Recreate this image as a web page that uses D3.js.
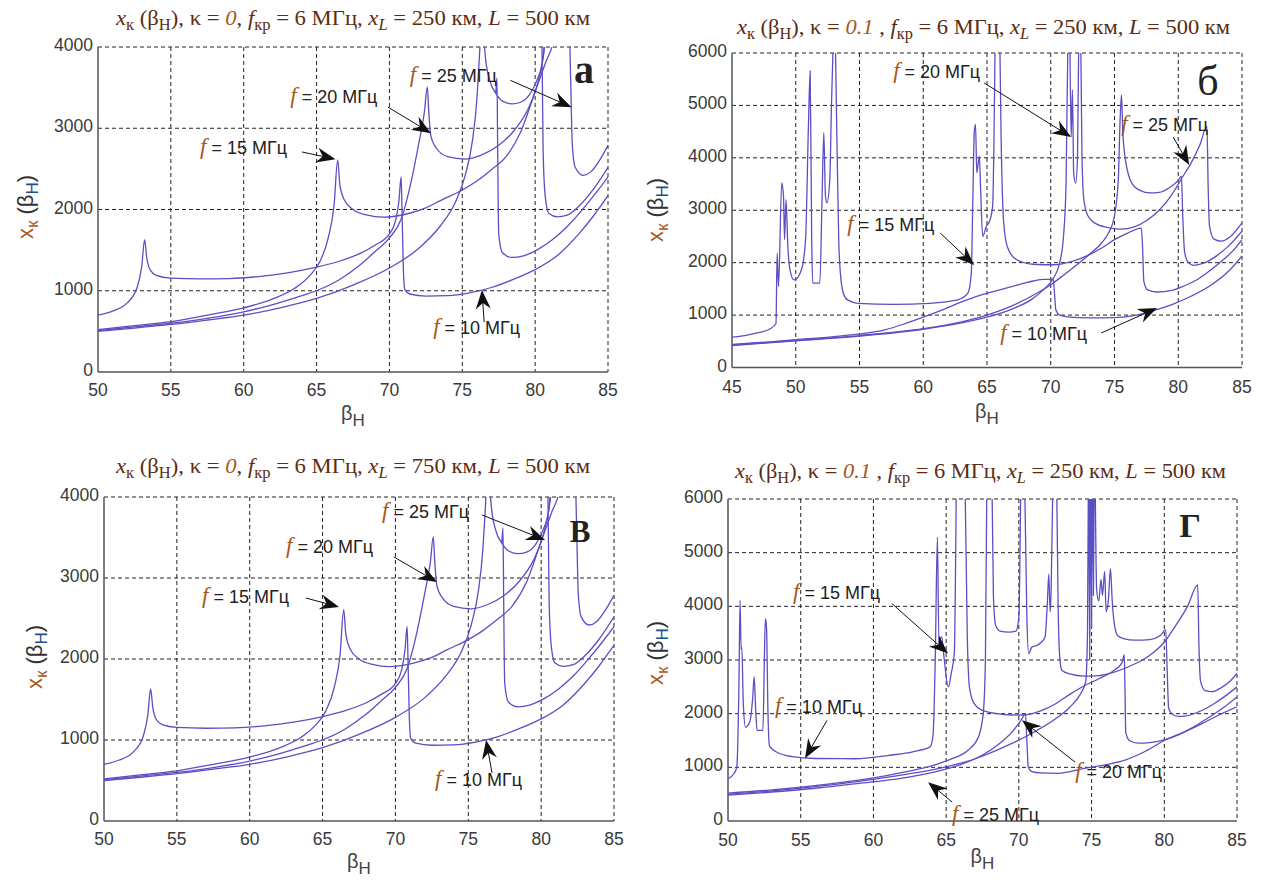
<!DOCTYPE html>
<html>
<head>
<meta charset="utf-8">
<script src="https://cdn.jsdelivr.net/npm/d3@7/dist/d3.min.js"></script>
<style>
  body { margin: 0; background: #fff; }
</style>
</head>
<body>
<svg id="fig" width="1261" height="883"></svg>
<script>
// ---- data: [beta, x_k], null = break in the line ----

// panel а (kappa = 0, xL = 250 km); panel в looks identical
const a10 = [[50,700],[51,750],[52,850],[52.7,1050],[53.0,1300],[53.2,1630],[53.35,1400],[53.6,1250],[54,1190],[55,1155],[57,1145],[59,1150],[61,1175],[63,1220],[65,1290],[66.5,1360],[68,1460],[69,1560],[70,1700],[70.4,1850],[70.65,2100],[70.8,2400],[70.85,2100],[70.95,1300],[71.05,1020],[71.4,960],[72.5,935],[74,940],[75.5,975],[77,1040],[78.5,1140],[80,1260],[81.5,1430],[83,1700],[84,1920],[85,2170]];
const a15 = [[50,520],[52.5,570],[55,620],[57.5,700],[60,790],[62,900],[63.5,1030],[64.5,1180],[65.2,1350],[65.8,1650],[66.2,2050],[66.45,2610],[66.6,2300],[66.9,2120],[67.5,2000],[68.5,1930],[69.5,1905],[70.5,1920],[71.5,1960],[72.5,2020],[73.5,2110],[75,2240],[76,2350],[77,2490],[78,2650],[79,2950],[80,3450],[80.7,3800],[81.3,4100],[81.5,4300],null,
  [82.35,4300],[82.45,3500],[82.55,2800],[82.75,2520],[83.3,2420],[83.8,2460],[84.4,2600],[85,2790]];
const a20 = [[50,510],[52.5,555],[55,600],[57.5,660],[60,740],[62,830],[64,940],[65,1000],[66.5,1130],[68,1320],[69,1480],[70,1650],[70.8,1880],[71.5,2350],[72,2800],[72.4,3200],[72.6,3510],[72.7,3200],[72.85,2900],[73.2,2760],[74,2650],[75.2,2620],[76.3,2670],[77.5,2790],[78.5,2960],[79.5,3230],[80,3450],[80.4,3720],[80.65,4000],[80.8,4300],null,
  [80.45,4300],[80.5,3500],[80.55,2700],[80.7,2150],[80.95,1950],[81.5,1910],[82.2,1930],[83,2040],[84,2250],[85,2520]];
const a25 = [[50,500],[52.5,540],[55,585],[57.5,640],[60,700],[62.5,790],[65,905],[67.5,1070],[70,1280],[72,1520],[73.5,1800],[74.5,2080],[75.2,2420],[75.7,2850],[76.0,3350],[76.15,3800],[76.3,4300],null,
  [76.4,4300],[76.6,3850],[76.9,3580],[77.3,3430],[77.8,3330],[78.4,3300],[79,3320],[79.6,3410],[80.1,3580],[80.5,3820],[80.75,4300],null,
  [77.3,3430],[77.38,3620],[77.43,2700],[77.5,1700],[77.75,1470],[78.4,1410],[79.2,1430],[80.2,1510],[81.2,1630],[82.2,1790],[83.2,1990],[84.2,2210],[85,2400]];

// panel б (kappa = 0.1, xL = 250 km)
const b10 = [[45,440],[48,490],[50,530],[53,590],[55,640],[57,720],[58.5,830],[60,960],[61.5,1100],[63,1250],[64.5,1380],[66,1480],[67.5,1580],[68.6,1650],[69.5,1680],[70.2,1680],[70.3,1400],[70.4,1100],[70.7,1000],[71.5,960],[73,945],[75,950],[76.5,990],[78,1080],[79.5,1200],[81,1360],[82.5,1560],[84,1850],[85,2130]];
const b15 = [[45,580],[46,610],[47,660],[48,740],[48.45,840],[48.54,2180],[48.65,1545],[48.9,3520],[49.04,3270],[49.12,2440],[49.24,3200],[49.38,2310],[49.6,1800],[49.88,1670],[50.44,1860],[50.77,2440],[51.0,4670],[51.13,5660],[51.25,2440],[51.33,1610],[51.89,1610],[52.05,3080],[52.2,4480],[52.33,3270],[52.45,3140],[52.67,3590],[52.8,4990],[52.95,6300],null,
  [53.1,6300],[53.23,4350],[53.37,2440],[53.5,1800],[53.73,1417],[54.06,1290],[54.9,1225],[57.7,1206],[60.5,1225],[62.7,1290],[63.5,1417],[63.77,1800],[63.88,3075],[64.0,4480],[64.1,4640],[64.2,3714],[64.4,4033],[64.5,3395],[64.66,2500],[64.94,2690],[65.2,2790],[65.44,3075],[65.64,6300],null,
  [66.0,6300],[66.1,4500],[66.3,2800],[66.6,2300],[67.3,2060],[68.6,1970],[70.2,1960],[71.75,2030],[73,2150],[74,2280],[75,2440],[76,2560],[77.1,2660],[77.2,2300],[77.3,1650],[77.6,1480],[78.3,1440],[79.5,1470],[80.5,1560],[81.5,1680],[82.5,1850],[83.5,2050],[84.3,2230],[85,2440]];
const b20 = [[45,420],[50,510],[55,600],[60,730],[63,850],[65,960],[67,1120],[68.5,1300],[69.5,1500],[70.2,1700],[70.7,2000],[71.0,2500],[71.2,3500],[71.35,6300],null,
  [71.5,6300],[71.6,4400],[71.7,5300],[71.8,3700],[71.95,3520],[72.1,4000],[72.2,6300],null,
  [72.35,6300],[72.45,4000],[72.6,3200],[72.9,2900],[73.5,2750],[74.5,2670],[75.5,2640],[76.5,2680],[77.5,2800],[78.5,3000],[79.5,3300],[80.3,3620],[81,3900],[81.7,4250],[82.25,4600],[82.35,3400],[82.45,2700],[82.8,2450],[83.4,2410],[84,2480],[85,2760]];
const b25 = [[45,430],[50,515],[55,610],[60,740],[63,870],[65,1000],[67,1180],[69,1430],[70,1580],[71,1760],[72,1950],[73,2150],[74,2380],[74.5,2550],[75,2900],[75.3,3600],[75.45,4800],[75.55,5200],[75.65,4500],[75.9,3900],[76.4,3500],[77,3380],[77.8,3330],[78.5,3340],[79.3,3430],[80,3570],[80.25,3650],[80.35,2900],[80.5,2200],[80.8,2000],[81.2,1950],[82,1990],[83,2130],[84,2330],[85,2600]];

// panel г (kappa = 0.1, xL = 250 km)
const g10 = [[50,790],[50.4,880],[50.6,1000],[50.75,2500],[50.83,4110],[50.9,3200],[50.95,3240],[51.05,2200],[51.2,1750],[51.5,1850],[51.7,2300],[51.8,2690],[51.9,2100],[52.0,1690],[52.4,1690],[52.5,3000],[52.57,3770],[52.65,3600],[52.75,2000],[52.85,1400],[53.3,1290],[54.4,1200],[56,1165],[58.7,1160],[61.3,1230],[62.7,1290],[63.9,1380],[64.1,1600],[64.25,3000],[64.4,5290],[64.5,3370],[64.7,3430],[64.85,3060],[65.15,2500],[65.35,2750],[65.56,3120],[65.7,6300],null,
  [66.3,6300],[66.45,3500],[66.6,2500],[66.9,2200],[67.5,2060],[68.5,2000],[69.5,1975],[70.5,1980],[71.5,2050],[72.5,2180],[73.5,2360],[74.5,2520],[75.5,2650],[76.5,2800],[77.1,2950],[77.25,3100],[77.3,2400],[77.35,1650],[77.6,1500],[78.2,1450],[79,1460],[80,1510],[81,1610],[82,1750],[83,1920],[84,2100],[85,2313]];
const g15 = [[50,520],[53,580],[56,660],[59,760],[61,850],[63,960],[64.5,1070],[65.5,1170],[66.5,1320],[67.2,1550],[67.55,2000],[67.7,3000],[67.8,6300],null,
  [68.15,6300],[68.25,4200],[68.4,3650],[68.7,3540],[69.3,3520],[69.8,3540],[70.0,3800],[70.13,6300],null,
  [70.4,6300],[70.55,3800],[70.68,3120],[70.9,3240],[71.23,3270],[71.5,3320],[71.8,3430],[71.95,4000],[72.06,4600],[72.15,3900],[72.22,4300],[72.34,6300],null,
  [72.6,6300],[72.7,4000],[72.8,3100],[72.95,2810],[73.5,2740],[74.5,2700],[75.5,2710],[76.5,2770],[77.5,2870],[78.5,3000],[79.3,3150],[80,3330],[80.8,3650],[81.6,4000],[82.3,4400],[82.38,3300],[82.5,2600],[82.8,2430],[83.3,2410],[83.9,2480],[84.5,2600],[85,2750]];
const g20 = [[50,480],[53,540],[56,610],[59,700],[62,800],[64,900],[66,1050],[67.5,1230],[68.7,1450],[69.6,1680],[70.2,1900],[70.45,2000],[70.55,1500],[70.65,1000],[70.9,920],[71.5,895],[72.6,888],[73.5,920],[74.5,980],[76,1050],[77.3,1135],[78.7,1300],[80,1500],[81.3,1650],[82.6,1816],[83.8,1980],[85,2126]];
const g25 = [[50,500],[53,560],[56,640],[59,740],[62,860],[65,1010],[67,1160],[69,1380],[71,1650],[72.5,1900],[73.5,2120],[74.2,2350],[74.6,2600],[74.72,3500],[74.78,6300],null,
  [74.82,6300],[74.87,3000],[74.92,6300],null,[74.96,6300],[75.0,3600],[75.04,6300],null,[75.08,6300],[75.13,4200],[75.18,6300],null,
  [75.25,6300],[75.35,4300],[75.5,4100],[75.65,4500],[75.75,4200],[75.9,4650],[76.0,3900],[76.15,4100],[76.3,4700],[76.42,4100],[76.55,3700],[76.8,3450],[77.2,3400],[78,3370],[79,3380],[79.7,3450],[80.1,3560],[80.2,2800],[80.3,2100],[80.6,1980],[81,1950],[81.5,1960],[82.5,2050],[83.5,2200],[84.3,2350],[85,2500]];

// curve labels: f, text anchor [beta, x], arrow from -> to
const aNotes = [
  {f: 15, at: [57.0, 2683], from: [64.0, 2708], to: [66.3, 2620]},
  {f: 20, at: [63.2, 3310], from: [69.9, 3260], to: [72.85, 2940]},
  {f: 25, at: [71.4, 3570], from: [78.3, 3590], to: [82.5, 3260]},
  {f: 10, at: [73.0, 470], from: [76.5, 615], to: [76.35, 1010]}
];
const bNotes = [
  {f: 20, at: [57.64, 5523], from: [64.78, 5427], to: [71.6, 4397]},
  {f: 25, at: [75.52, 4512], from: [79.6, 4397], to: [80.86, 3863]},
  {f: 15, at: [54.04, 2604], from: [61.33, 2566], to: [63.99, 1955]},
  {f: 10, at: [66.03, 525], from: [73.95, 658], to: [78.34, 1135]}
];
const vNotes = [
  {f: 25, at: [69.08, 3741], from: [75.94, 3778], to: [80.27, 3469]},
  {f: 20, at: [62.49, 3309], from: [69.9, 3259], to: [72.85, 2951]},
  {f: 15, at: [56.73, 2691], from: [63.86, 2753], to: [66.13, 2642]},
  {f: 10, at: [72.72, 432], from: [76.63, 593], to: [76.22, 1000]}
];
const gNotes = [
  {f: 15, at: [54.47, 4142], from: [61.28, 4050], to: [65.13, 3121]},
  {f: 10, at: [53.23, 2006], from: [56.81, 1876], to: [55.3, 1170]},
  {f: 20, at: [73.87, 799], from: [73.87, 1096], to: [70.22, 1876]},
  {f: 25, at: [65.41, 0], from: [65.41, 353], to: [63.76, 724]}
];

const ticks4000 = [0, 1000, 2000, 3000, 4000];
const ticks6000 = [0, 1000, 2000, 3000, 4000, 5000, 6000];

// ---- layout ----
const panels = [
  {box: [98, 47, 608, 372], xd: [50, 85], yd: [0, 4000], yt: ticks4000, curves: [a10, a15, a20, a25], notes: aNotes,
   kappa: '0', xl: '250', title: [116, 590, 25], ylab: [26, 207], xlab: 420, tickY: 396,
   letter: {t: 'а', x: 584, y: 83, size: 40, bold: true}},
  {box: [732, 53, 1242, 367.5], xd: [45, 85], yd: [0, 6000], yt: ticks6000, curves: [b10, b15, b20, b25], notes: bNotes,
   kappa: '0.1 ', xl: '250', title: [737, 1230, 34], ylab: [656, 210], xlab: 418, tickY: 393,
   letter: {t: 'б', x: 1208, y: 95, size: 42, bold: false}},
  {box: [104, 497, 614, 821], xd: [50, 85], yd: [0, 4000], yt: ticks4000, curves: [a10, a15, a20, a25], notes: vNotes,
   kappa: '0', xl: '750', title: [116, 590, 473], ylab: [35, 657], xlab: 868, tickY: 845,
   letter: {t: 'В', x: 580, y: 542, size: 31, bold: true}},
  {box: [728, 499, 1237, 821], xd: [50, 85], yd: [0, 6000], yt: ticks6000, curves: [g10, g15, g20, g25], notes: gNotes,
   kappa: '0.1 ', xl: '250', title: [735, 1226, 478], ylab: [656, 653], xlab: 863, tickY: 846,
   letter: {t: 'Г', x: 1190, y: 537, size: 34, bold: true}}
];

const svg = d3.select('#fig');
const lineColor = '#5b4fc4';
const brown = '#5b2c0f';
const orange = '#a8571c';

// text made of pieces: [string, flags] where s = subscript, i = italic
function richText(sel, parts, big, small, shift) {
  let down = false;
  parts.forEach(([s, k, fill]) => {
    const sp = sel.append('tspan').text(s);
    const sub = k.includes('s');
    if (sub && !down) { sp.attr('dy', shift); down = true; }
    else if (!sub && down) { sp.attr('dy', -shift); down = false; }
    sp.style('font-size', (sub ? small : big) + 'px');
    if (k.includes('i')) sp.style('font-style', 'italic');
    if (fill) sp.attr('fill', fill);
  });
}

function arrow(g, x1, y1, x2, y2) {
  const dx = x2 - x1, dy = y2 - y1, len = Math.hypot(dx, dy);
  const ux = dx / len, uy = dy / len;
  const hl = 19, hw = 7.5;
  const bx = x2 - ux * hl, by = y2 - uy * hl;
  const nx = x2 - ux * (hl - 6), ny = y2 - uy * (hl - 6);
  g.append('line').attr('x1', x1).attr('y1', y1).attr('x2', nx).attr('y2', ny)
    .attr('stroke', '#111').attr('stroke-width', 1);
  g.append('path')
    .attr('d', `M${x2},${y2}L${bx - uy * hw},${by + ux * hw}L${nx},${ny}L${bx + uy * hw},${by - ux * hw}Z`)
    .attr('fill', '#111');
}

panels.forEach((p, i) => {
  const [L, T, R, B] = p.box;
  const x = d3.scaleLinear().domain(p.xd).range([L, R]);
  const y = d3.scaleLinear().domain(p.yd).range([B, T]);
  const g = svg.append('g');
  const xt = d3.range(p.xd[0], p.xd[1] + 1, 5);

  // grid
  g.append('g').selectAll('line').data(xt.slice(1)).join('line')
    .attr('x1', d => x(d)).attr('x2', d => x(d)).attr('y1', T).attr('y2', B)
    .attr('stroke', '#222').attr('stroke-width', 1).attr('stroke-dasharray', '4,3');
  g.append('g').selectAll('line').data(p.yt.slice(1)).join('line')
    .attr('x1', L).attr('x2', R).attr('y1', d => y(d)).attr('y2', d => y(d))
    .attr('stroke', '#222').attr('stroke-width', 1).attr('stroke-dasharray', '4,3');

  // axes
  g.append('line').attr('x1', L).attr('x2', L).attr('y1', T).attr('y2', B).attr('stroke', '#555').attr('stroke-width', 1.5);
  g.append('line').attr('x1', L).attr('x2', R).attr('y1', B).attr('y2', B).attr('stroke', '#555').attr('stroke-width', 1.5);

  // tick labels
  g.append('g').selectAll('text').data(xt).join('text')
    .attr('x', d => x(d)).attr('y', p.tickY).attr('text-anchor', 'middle')
    .style('font-family', 'Liberation Sans, Arial, sans-serif').style('font-size', '17.5px')
    .attr('fill', '#3a3a3a').text(d => d);
  g.append('g').selectAll('text').data(p.yt).join('text')
    .attr('x', L - 5).attr('y', d => y(d) + 4).attr('text-anchor', 'end')
    .style('font-family', 'Liberation Sans, Arial, sans-serif').style('font-size', '17.5px')
    .attr('fill', '#3a3a3a').text(d => d);

  // curves
  const clipId = 'clip' + i;
  svg.append('clipPath').attr('id', clipId).append('rect')
    .attr('x', L).attr('y', T).attr('width', R - L).attr('height', B - T);
  const line = d3.line().defined(d => d !== null).x(d => x(d[0])).y(d => y(d[1]))
    .curve(d3.curveMonotoneX);
  g.append('g').attr('clip-path', `url(#${clipId})`).selectAll('path').data(p.curves).join('path')
    .attr('d', line).attr('fill', 'none').attr('stroke', lineColor).attr('stroke-width', 1.3)
    .attr('stroke-linejoin', 'round');

  // title
  const t = g.append('text').attr('x', p.title[0]).attr('y', p.title[2])
    .attr('textLength', p.title[1] - p.title[0]).attr('lengthAdjust', 'spacingAndGlyphs')
    .style('font-family', 'Liberation Serif, Times New Roman, serif').attr('fill', brown);
  richText(t, [
    ['x', 'i'], ['к', 's'], [' (β', ''], ['Н', 's'], ['), κ = ', ''], [p.kappa, 'i', orange], [', ', ''],
    ['f', 'i'], ['кр', 's'], [' = 6 МГц, ', ''], ['x', 'i'], ['L', 'si'], [' = ' + p.xl + ' км, ', ''],
    ['L', 'i'], [' = 500 км', '']
  ], 22, 16, 5);

  // y label
  const yl = g.append('text').attr('transform', `translate(${p.ylab[0] + 7},${p.ylab[1]}) rotate(-90)`)
    .attr('text-anchor', 'middle').style('font-family', 'Liberation Sans, Arial, sans-serif').attr('fill', '#333');
  richText(yl, [['x', '', orange], ['к', 's', orange], [' (β', ''], ['Н', 's', '#1f4e8c'], [')', '']], 22, 17, 5);

  // x label
  const xlb = g.append('text').attr('x', (L + R) / 2).attr('y', p.xlab).attr('text-anchor', 'middle')
    .style('font-family', 'Liberation Sans, Arial, sans-serif').attr('fill', '#444');
  richText(xlb, [['β', ''], ['Н', 's']], 20, 17, 6);

  // panel letter
  g.append('text').attr('x', p.letter.x).attr('y', p.letter.y).attr('text-anchor', 'middle')
    .style('font-family', 'Liberation Serif, Times New Roman, serif').style('font-size', p.letter.size + 'px')
    .style('font-weight', p.letter.bold ? 'bold' : 'normal').attr('fill', '#222').text(p.letter.t);

  // curve labels and arrows
  p.notes.forEach(n => {
    arrow(g, x(n.from[0]), y(n.from[1]), x(n.to[0]), y(n.to[1]));
    const nt = g.append('text').attr('x', x(n.at[0])).attr('y', y(n.at[1]));
    nt.append('tspan').text('f').style('font-family', 'Liberation Serif, serif').style('font-style', 'italic')
      .style('font-size', '23px').attr('fill', orange);
    nt.append('tspan').text(' = ' + n.f + ' МГц').style('font-family', 'Liberation Sans, Arial, sans-serif')
      .style('font-size', '18px').attr('fill', '#222');
  });
});
</script>
</body>
</html>
